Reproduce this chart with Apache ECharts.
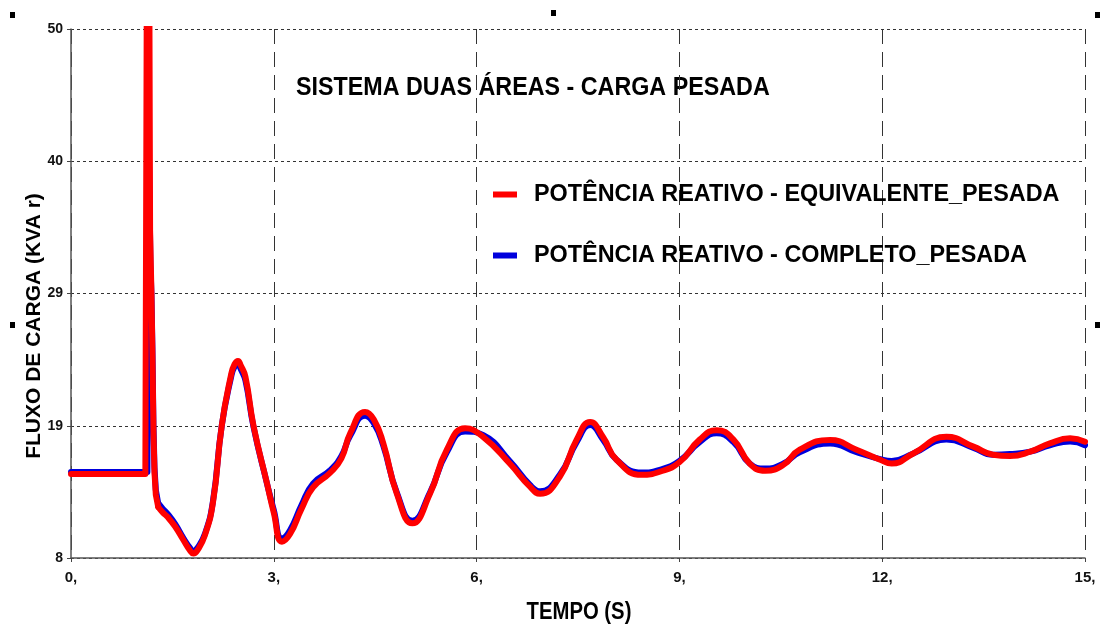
<!DOCTYPE html>
<html><head><meta charset="utf-8">
<script src="https://cdn.jsdelivr.net/npm/echarts@6/dist/echarts.min.js"></script>
<style>html,body{margin:0;padding:0;background:#fff}#c{width:1102px;height:631px}</style>
</head><body><div id="c"></div>
<script>
// ---- data ----
const chartTitle = 'SISTEMA DUAS ÁREAS - CARGA PESADA';
const xName = 'TEMPO (S)';
const yName = 'FLUXO DE CARGA (KVA r)';
const nameEquivalente = 'POTÊNCIA REATIVO - EQUIVALENTE_PESADA';
const nameCompleto = 'POTÊNCIA REATIVO - COMPLETO_PESADA';

const tempoEquivalente = [0,1.10,1.12,1.125,1.155,1.17,1.19,1.205,1.22,1.235,1.255,1.29,1.36,1.43,1.54,1.66,1.76,1.81,1.87,1.98,2.10,2.23,2.37,2.42,2.47,2.51,2.58,2.70,2.90,3.00,3.12,3.24,3.41,3.58,3.83,4.00,4.13,4.35,4.48,4.62,4.82,5.05,5.31,5.56,5.83,6.10,6.49,6.79,6.94,7.23,7.48,7.68,7.87,8.07,8.44,8.71,9.00,9.30,9.55,9.80,10.04,10.27,10.54,10.78,11.23,11.62,11.97,12.14,12.46,12.95,13.35,13.64,13.89,14.19,14.48,14.78,15.00];
const fluxoEquivalente = [14.67,14.67,14.67,60,60,34,29,24,18,14.8,13.0,12.05,11.6,11.25,10.5,9.45,8.6,8.35,8.6,9.8,12.4,18.5,22.6,23.4,23.65,23.3,22.4,18.5,13.9,11.6,9.3,9.9,11.9,13.6,14.75,15.9,17.9,19.6,19.0,17.1,13.1,10.75,13.1,16.6,18.3,17.6,15.5,13.66,13.1,14.45,17.4,18.8,17.6,15.8,14.6,14.85,15.6,17.4,18.15,17.4,15.5,14.93,15.4,16.6,17.37,16.6,15.8,15.5,16.3,17.63,16.84,16.2,16.1,16.44,17.1,17.5,17.23];

const tempoCompleto = [0,1.10,1.13,1.155,1.175,1.19,1.205,1.22,1.235,1.255,1.29,1.36,1.43,1.54,1.66,1.76,1.81,1.87,1.98,2.10,2.23,2.37,2.42,2.47,2.51,2.58,2.70,2.90,3.00,3.12,3.24,3.41,3.58,3.83,4.00,4.13,4.35,4.48,4.62,4.82,5.05,5.31,5.56,5.83,6.10,6.49,6.79,6.94,7.23,7.48,7.68,7.87,8.07,8.44,8.71,9.00,9.30,9.55,9.80,10.04,10.27,10.54,10.78,11.23,11.62,11.97,12.14,12.46,12.95,13.35,13.64,13.89,14.19,14.48,14.78,15.00];
const fluxoCompleto = [14.83,14.83,14.83,39.4,31.3,29.0,24.5,18.5,15.2,13.4,12.35,11.9,11.5,10.7,9.6,8.8,8.55,8.8,9.9,12.5,18.5,22.4,23.2,23.4,23.0,22.1,18.4,13.9,11.8,9.55,10.2,12.2,13.9,14.95,16.1,17.7,19.3,18.7,16.9,13.2,10.95,13.2,16.4,18.05,17.75,15.7,13.8,13.3,14.6,17.2,18.55,17.4,15.8,14.78,15.0,15.7,17.2,17.9,17.2,15.5,15.1,15.5,16.4,17.1,16.4,15.85,15.7,16.3,17.4,16.75,16.2,16.25,16.45,16.95,17.25,16.95];

const xMin = 0, xMax = 15, xStep = 3;
const yMin = 8, yMax = 50, yStep = 10.5;
const spikeEnd = 1.29; // end of the fast transient drawn with straight segments

// ---- chart ----
const pair = (xs, ys) => xs.map((x, i) => [x, ys[i]]);
const font = 'Liberation Sans, Arial, sans-serif';
const chart = echarts.init(document.getElementById('c'), null, {renderer: 'canvas'});
const handles = [[10,12],[551,10],[1095,12],[10,322],[1095,322]].map(p => ({
  type: 'rect', shape: {x: p[0], y: p[1], width: 5, height: 6}, style: {fill: '#000'}, silent: true
}));
function parts(xs, ys, name, color, z) {
  const pts = pair(xs, ys);
  const a = pts.filter(p => p[0] <= spikeEnd);
  const b = pts.filter(p => p[0] >= spikeEnd);
  const base = {name, type: 'line', showSymbol: false, symbol: 'none', clip: true, color,
                lineStyle: {color, width: 6, join: 'round', cap: 'round'}, z};
  return [Object.assign({}, base, {data: a, smooth: false}),
          Object.assign({}, base, {data: b, smooth: 0.5})];
}
chart.setOption({
  animation: false,
  backgroundColor: '#fff',
  legend: {
    orient: 'vertical', left: 488, top: 178, itemWidth: 24, itemHeight: 6, itemGap: 38,
    icon: 'rect',
    data: [nameEquivalente, nameCompleto],
    textStyle: {fontFamily: font, fontWeight: 'bold', fontSize: 23.4, color: '#000', padding: [0,0,0,12]}
  },
  grid: {left: 71, right: 17, top: 29, bottom: 73, containLabel: false},
  xAxis: {
    type: 'value', min: xMin, max: xMax, interval: xStep,
    axisLine: {show: true, onZero: false, lineStyle: {color: '#555', width: 1.5}},
    axisTick: {show: true, length: 4, lineStyle: {color: '#444'}},
    axisLabel: {formatter: v => v + ',', margin: 12, fontFamily: font, fontWeight: 'bold', fontSize: 15, color: '#111'},
    splitLine: {show: true, lineStyle: {type: [15, 8], color: '#333', width: 1}}
  },
  yAxis: {
    type: 'value', min: yMin, max: yMax, interval: yStep,
    axisLine: {show: true, lineStyle: {color: '#555', width: 1.5}},
    axisTick: {show: true, length: 4, lineStyle: {color: '#444'}},
    axisLabel: {formatter: v => String(Math.round(v)), margin: 8, fontFamily: font, fontWeight: 'bold', fontSize: 14, color: '#111'},
    splitLine: {show: true, lineStyle: {type: [3, 3], color: '#333', width: 1}}
  },
  graphic: [
    {type: 'text', x: 296, y: 88, scaleY: 1.13, silent: true,
     style: {text: chartTitle, fill: '#000', fontFamily: font, fontWeight: 'bold', fontSize: 23.3,
             align: 'left', verticalAlign: 'middle', textAlign: 'left', textVerticalAlign: 'middle'}},
    {type: 'text', x: 579, y: 612, scaleY: 1.18, silent: true,
     style: {text: xName, fill: '#000', fontFamily: font, fontWeight: 'bold', fontSize: 20.3,
             align: 'center', verticalAlign: 'middle', textAlign: 'center', textVerticalAlign: 'middle'}},
    {type: 'text', x: 34, y: 326, rotation: Math.PI / 2, silent: true,
     style: {text: yName, fill: '#000', fontFamily: font, fontWeight: 'bold', fontSize: 21,
             align: 'center', verticalAlign: 'middle', textAlign: 'center', textVerticalAlign: 'middle'}}
  ].concat(handles),
  series: [].concat(
    parts(tempoCompleto, fluxoCompleto, nameCompleto, '#0000dd', 2),
    parts(tempoEquivalente, fluxoEquivalente, nameEquivalente, '#ff0000', 3)
  )
});
</script>
</body></html>
